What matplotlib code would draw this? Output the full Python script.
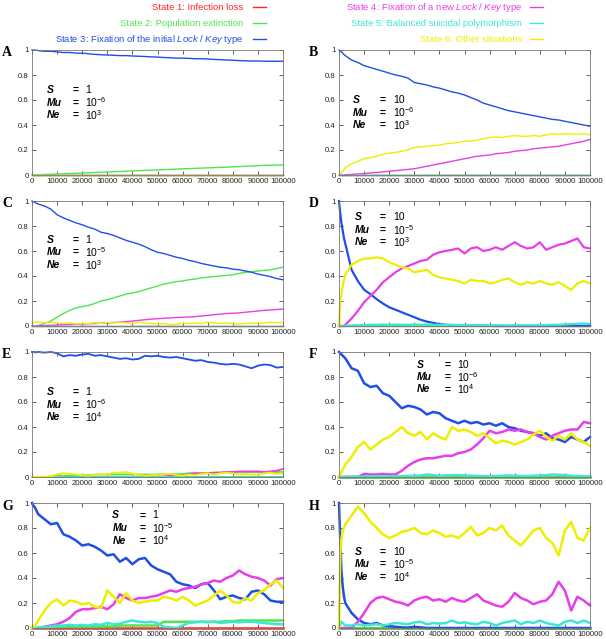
import matplotlib
matplotlib.use('Agg')
import matplotlib.pyplot as plt
from matplotlib.lines import Line2D

plt.rcParams['font.family'] = ['Liberation Sans', 'DejaVu Sans']
plt.rcParams['mathtext.fontset'] = 'custom'
plt.rcParams['mathtext.rm'] = 'Liberation Sans'
plt.rcParams['mathtext.it'] = 'Liberation Sans:italic'
plt.rcParams['mathtext.bf'] = 'Liberation Sans:bold'

# ---------------- data ----------------
T = [0, 500, 1000, 1500, 2000] + list(range(2500, 100001, 2500))
ENDS = [0, 100000]

STATE_LABELS = [
    'State 1: Infection loss',
    'State 2: Population extinction',
    'State 3: Fixation of the initial $\\mathit{Lock\\ /\\ Key}$ type',
    'State 4: Fixation of a new $\\mathit{Lock\\ /\\ Key}$ type',
    'State 5: Balanced suicidal polymorphism',
    'State 6: Other situations',
]
COLORS = ['#ff2222', '#4de64d', '#1f4fe8', '#e83de8', '#3ee6d6', '#eeee00']

X_TICKS = [0, 10000, 20000, 30000, 40000, 50000, 60000, 70000, 80000, 90000, 100000]
Y_TICKS = [0, 0.2, 0.4, 0.6, 0.8, 1.0]
Y_TICK_LABELS = ['0', '0.2', '0.4', '0.6', '0.8', '1']

# Panel A
A_red = [0, 0]
A_green = [0, 0, 0, 0.001, 0.001,
           0.002, 0.004, 0.006, 0.008, 0.01, 0.012, 0.014, 0.016, 0.018, 0.02,
           0.022, 0.024, 0.026, 0.028, 0.03, 0.032, 0.035, 0.037, 0.039, 0.041,
           0.043, 0.045, 0.047, 0.049, 0.051, 0.053, 0.055, 0.057, 0.059, 0.061,
           0.063, 0.065, 0.067, 0.07, 0.072, 0.075, 0.077, 0.078, 0.079, 0.08]
A_blue = [1.0, 1.0, 0.999, 0.998, 0.997,
          0.995, 0.99, 0.99, 0.985, 0.98, 0.98, 0.975, 0.975, 0.97, 0.965,
          0.962, 0.96, 0.958, 0.955, 0.955, 0.952, 0.95, 0.948, 0.945, 0.943,
          0.94, 0.938, 0.935, 0.935, 0.933, 0.93, 0.93, 0.928, 0.925, 0.922,
          0.92, 0.918, 0.915, 0.913, 0.912, 0.912, 0.91, 0.91, 0.91, 0.91]
A_magenta = [0.001, 0.001]
A_cyan = [0, 0]
A_yellow = [0.003, 0.003]

# Panel B
B_red = [0, 0]
B_green = [0, 0]
B_blue = [1.0, 0.99, 0.985, 0.975, 0.965,
          0.955, 0.92, 0.9, 0.875, 0.86, 0.845, 0.83, 0.815, 0.8, 0.79,
          0.775, 0.74, 0.73, 0.72, 0.705, 0.695, 0.68, 0.665, 0.655, 0.64,
          0.62, 0.6, 0.575, 0.56, 0.545, 0.53, 0.515, 0.505, 0.495, 0.485,
          0.475, 0.465, 0.455, 0.445, 0.44, 0.43, 0.42, 0.41, 0.4, 0.39]
B_magenta = [0, 0, 0, 0, 0,
             0.002, 0.005, 0.008, 0.012, 0.016, 0.02, 0.025, 0.03, 0.035, 0.04,
             0.045, 0.05, 0.06, 0.07, 0.08, 0.09, 0.1, 0.11, 0.12, 0.13,
             0.14, 0.15, 0.155, 0.16, 0.17, 0.175, 0.18, 0.19, 0.195, 0.2,
             0.21, 0.215, 0.22, 0.225, 0.23, 0.24, 0.25, 0.26, 0.27, 0.285]
B_cyan = [0, 0]
B_yellow = [0, 0.01, 0.02, 0.03, 0.04,
            0.06, 0.09, 0.11, 0.13, 0.14, 0.15, 0.165, 0.175, 0.18, 0.19,
            0.2, 0.22, 0.225, 0.23, 0.235, 0.24, 0.25, 0.255, 0.26, 0.27,
            0.27, 0.28, 0.29, 0.3, 0.305, 0.3, 0.31, 0.315, 0.31, 0.31,
            0.315, 0.31, 0.32, 0.33, 0.325, 0.33, 0.33, 0.325, 0.33, 0.32]

# Panel C
C_red = [0, 0]
C_green = [0, 0, 0, 0, 0,
           0.005, 0.02, 0.04, 0.07, 0.1, 0.125, 0.145, 0.155, 0.165, 0.18,
           0.2, 0.21, 0.225, 0.24, 0.255, 0.265, 0.275, 0.29, 0.305, 0.32,
           0.335, 0.345, 0.355, 0.36, 0.37, 0.375, 0.385, 0.39, 0.395, 0.4,
           0.405, 0.41, 0.42, 0.43, 0.435, 0.44, 0.445, 0.45, 0.46, 0.47]
C_blue = [1.0, 0.995, 0.99, 0.985, 0.98,
          0.975, 0.96, 0.935, 0.89, 0.865, 0.845, 0.825, 0.81, 0.79, 0.775,
          0.75, 0.74, 0.725, 0.705, 0.685, 0.67, 0.655, 0.635, 0.61, 0.59,
          0.58, 0.565, 0.55, 0.54, 0.525, 0.515, 0.5, 0.49, 0.48, 0.47,
          0.465, 0.455, 0.45, 0.44, 0.43, 0.415, 0.405, 0.395, 0.38, 0.37]
C_magenta = [0, 0, 0, 0, 0,
             0.002, 0.004, 0.006, 0.008, 0.01, 0.012, 0.014, 0.016, 0.018, 0.02,
             0.022, 0.025, 0.028, 0.03, 0.035, 0.04, 0.045, 0.05, 0.055, 0.058,
             0.062, 0.065, 0.068, 0.07, 0.072, 0.075, 0.08, 0.085, 0.09, 0.095,
             0.1, 0.102, 0.105, 0.11, 0.115, 0.12, 0.125, 0.128, 0.132, 0.135]
C_cyan = [0.003, 0.003]
C_yellow = [0.02, 0.03, 0.03, 0.035, 0.03,
            0.035, 0.025, 0.03, 0.025, 0.02, 0.025, 0.015, 0.02, 0.02, 0.025,
            0.02, 0.03, 0.025, 0.03, 0.025, 0.02, 0.03, 0.025, 0.02, 0.015,
            0.02, 0.01, 0.015, 0.02, 0.02, 0.025, 0.02, 0.03, 0.025, 0.02,
            0.025, 0.02, 0.015, 0.02, 0.025, 0.02, 0.025, 0.03, 0.025, 0.03]

# Panel D
D_red = [0, 0]
D_green = [0.004, 0.004]
D_blue = [1.0, 0.9, 0.82, 0.76, 0.7,
          0.66, 0.45, 0.36, 0.29, 0.255, 0.215, 0.18, 0.15, 0.13, 0.11,
          0.09, 0.07, 0.05, 0.035, 0.025, 0.015, 0.01, 0.007, 0.005, 0.003,
          0.002, 0.002, 0.001, 0.001, 0, 0, 0, 0, 0, 0,
          0, 0, 0, 0, 0, 0, 0, 0, 0, 0]
D_magenta = [0, 0, 0, 0, 0,
             0.01, 0.06, 0.12, 0.19, 0.24, 0.29, 0.35, 0.39, 0.43, 0.46,
             0.48, 0.5, 0.52, 0.53, 0.57, 0.59, 0.6, 0.61, 0.62, 0.58,
             0.62, 0.63, 0.6, 0.61, 0.63, 0.61, 0.64, 0.67, 0.64, 0.62,
             0.63, 0.67, 0.61, 0.63, 0.65, 0.66, 0.68, 0.7, 0.63, 0.62]
D_cyan = [0, 0, 0, 0, 0,
          0.002, 0.004, 0.006, 0.008, 0.01, 0.01, 0.012, 0.01, 0.012, 0.01,
          0.01, 0.012, 0.01, 0.012, 0.01, 0.01, 0.008, 0.01, 0.008, 0.006,
          0.006, 0.005, 0.005, 0.005, 0.006, 0.005, 0.004, 0.005, 0.006, 0.005,
          0.006, 0.008, 0.008, 0.01, 0.01, 0.012, 0.015, 0.018, 0.02, 0.018]
D_yellow = [0.0, 0.2, 0.26, 0.32, 0.37,
            0.41, 0.49, 0.52, 0.54, 0.54, 0.55, 0.54, 0.51, 0.49, 0.47,
            0.46, 0.43, 0.44, 0.45, 0.41, 0.39, 0.38, 0.37, 0.36, 0.34,
            0.37, 0.36, 0.36, 0.34, 0.35, 0.37, 0.38, 0.35, 0.33, 0.35,
            0.34, 0.36, 0.34, 0.33, 0.35, 0.32, 0.29, 0.34, 0.36, 0.34]

# Panel E
E_red = [0, 0]
E_green = [0, 0, 0, 0, 0,
           0, 0, 0.005, 0.008, 0.01, 0.01, 0.012, 0.015, 0.015, 0.018,
           0.02, 0.02, 0.02, 0.02, 0.02, 0.02, 0.02, 0.02, 0.02, 0.02,
           0.022, 0.022, 0.022, 0.025, 0.03, 0.03, 0.03, 0.032, 0.035, 0.035,
           0.04, 0.04, 0.04, 0.04, 0.04, 0.04, 0.04, 0.04, 0.04, 0.04]
E_blue = [1.0, 1.0, 1.0, 0.995, 1.0,
          1.0, 0.995, 1.0, 0.99, 0.965, 0.975, 0.97, 0.98, 0.985, 0.97,
          0.975, 0.965, 0.955, 0.945, 0.95, 0.94, 0.945, 0.97, 0.965, 0.97,
          0.96, 0.955, 0.96, 0.95, 0.94, 0.93, 0.935, 0.92, 0.915, 0.905,
          0.9, 0.905, 0.9, 0.885, 0.87, 0.89, 0.9, 0.895, 0.875, 0.88]
E_magenta = [0, 0, 0, 0, 0,
             0, 0, 0, 0, 0, 0, 0, 0, 0, 0,
             0, 0, 0, 0, 0, 0, 0, 0, 0, 0,
             0.005, 0.01, 0.01, 0.01, 0.025, 0.03, 0.03, 0.03, 0.035, 0.035,
             0.04, 0.04, 0.045, 0.045, 0.045, 0.045, 0.04, 0.045, 0.05, 0.065]
E_cyan = [0.003, 0.003]
E_yellow = [0, 0, 0, 0.002, 0.003,
            0.003, 0.002, 0.005, 0.02, 0.03, 0.025, 0.02, 0.015, 0.01, 0.02,
            0.02, 0.02, 0.035, 0.035, 0.04, 0.025, 0.02, 0.01, 0.015, 0.02,
            0.02, 0.025, 0.015, 0.01, 0.02, 0.015, 0.025, 0.03, 0.02, 0.03,
            0.035, 0.03, 0.02, 0.025, 0.02, 0.02, 0.03, 0.035, 0.025, 0.03]

# Panel F
F_red = [0, 0]
F_green = [0.002, 0.002]
F_blue = [1.0, 0.99, 0.98, 0.97, 0.96,
          0.95, 0.87, 0.85, 0.75, 0.72, 0.73, 0.67, 0.65, 0.6, 0.55,
          0.57, 0.56, 0.54, 0.5, 0.52, 0.51, 0.47, 0.45, 0.43, 0.45,
          0.43, 0.44, 0.42, 0.43, 0.41, 0.43, 0.4, 0.39, 0.37, 0.36,
          0.35, 0.33, 0.35, 0.31, 0.3, 0.28, 0.32, 0.3, 0.28, 0.32]
F_magenta = [0, 0, 0, 0, 0,
             0, 0, 0, 0.025, 0.02, 0.02, 0.025, 0.02, 0.02, 0.05,
             0.09, 0.12, 0.14, 0.15, 0.15, 0.16, 0.17, 0.17, 0.19, 0.2,
             0.22, 0.26, 0.31, 0.37, 0.35, 0.36, 0.38, 0.37, 0.38, 0.36,
             0.35, 0.32, 0.3, 0.33, 0.35, 0.37, 0.38, 0.38, 0.44, 0.43]
F_cyan = [0, 0, 0, 0, 0,
          0.002, 0.003, 0.003, 0.004, 0.005, 0.005, 0.005, 0.005, 0.006, 0.006,
          0.008, 0.01, 0.012, 0.02, 0.015, 0.01, 0.012, 0.015, 0.015, 0.012,
          0.01, 0.008, 0.006, 0.006, 0.008, 0.01, 0.012, 0.01, 0.008, 0.008,
          0.01, 0.012, 0.015, 0.02, 0.018, 0.015, 0.01, 0.008, 0.006, 0.005]
F_yellow = [0, 0.02, 0.04, 0.06, 0.08,
            0.1, 0.16, 0.24, 0.28, 0.22, 0.26, 0.3, 0.32, 0.36, 0.4,
            0.35, 0.33, 0.36, 0.3, 0.35, 0.32, 0.3, 0.4, 0.37, 0.38,
            0.36, 0.33, 0.35, 0.31, 0.27, 0.29, 0.28, 0.26, 0.28, 0.3,
            0.34, 0.37, 0.32, 0.29, 0.33, 0.3, 0.35, 0.3, 0.28, 0.25]

# Panel G
G_red = [0, 0]
G_green = [0, 0, 0, 0, 0,
           0, 0, 0.01, 0.01, 0.01, 0.012, 0.012, 0.012, 0.012, 0.012,
           0.012, 0.012, 0.012, 0.02, 0.02, 0.02, 0.02, 0.02, 0.02, 0.02,
           0.05, 0.05, 0.05, 0.05, 0.05, 0.05, 0.05, 0.05, 0.05, 0.05,
           0.055, 0.055, 0.06, 0.06, 0.06, 0.06, 0.06, 0.06, 0.06, 0.06]
G_blue = [1.0, 0.98, 0.97, 0.95, 0.93,
          0.91, 0.87, 0.83, 0.84, 0.75, 0.73, 0.7, 0.66, 0.67, 0.65,
          0.62, 0.58, 0.59, 0.53, 0.56, 0.51, 0.55, 0.56, 0.5, 0.47,
          0.45, 0.43, 0.37, 0.35, 0.34, 0.32, 0.35, 0.36, 0.3, 0.23,
          0.25, 0.26, 0.24, 0.23, 0.29, 0.3, 0.27, 0.22, 0.21, 0.21]
G_magenta = [0, 0, 0, 0, 0,
             0, 0.01, 0.02, 0.03, 0.05, 0.08, 0.13, 0.15, 0.15, 0.16,
             0.17, 0.15, 0.19, 0.27, 0.24, 0.22, 0.24, 0.24, 0.25, 0.26,
             0.28, 0.3, 0.29, 0.31, 0.32, 0.33, 0.35, 0.36, 0.38, 0.37,
             0.4, 0.42, 0.46, 0.43, 0.41, 0.4, 0.38, 0.34, 0.39, 0.4]
G_cyan = [0, 0, 0, 0, 0.002,
          0.005, 0.008, 0.012, 0.02, 0.02, 0.025, 0.02, 0.025, 0.02, 0.03,
          0.025, 0.04, 0.03, 0.035, 0.05, 0.06, 0.05, 0.045, 0.05, 0.04,
          0.01, 0.005, 0.0, 0.02, 0.04, 0.045, 0.05, 0.045, 0.05, 0.04,
          0.045, 0.05, 0.045, 0.05, 0.05, 0.045, 0.04, 0.035, 0.03, 0.03]
G_yellow = [0, 0.01, 0.02, 0.03, 0.04,
            0.06, 0.14, 0.2, 0.23, 0.18, 0.22, 0.21, 0.19, 0.2, 0.17,
            0.16, 0.3, 0.25, 0.2, 0.28, 0.22, 0.2, 0.21, 0.22, 0.22,
            0.25, 0.24, 0.22, 0.25, 0.22, 0.18, 0.2, 0.22, 0.26, 0.3,
            0.26, 0.21, 0.2, 0.24, 0.22, 0.28, 0.3, 0.35, 0.38, 0.32]

# Panel H
H_red = [0, 0]
H_green = [0.003, 0.003]
H_blue = [1.0, 0.7, 0.45, 0.33, 0.25,
          0.2, 0.12, 0.07, 0.04, 0.03, 0.04, 0.02, 0.015, 0.01, 0.005,
          0.003, 0.01, 0.005, 0, 0, 0, 0, 0, 0, 0,
          0, 0, 0, 0, 0, 0, 0, 0, 0, 0,
          0, 0, 0, 0, 0, 0, 0, 0, 0, 0]
H_magenta = [0, 0, 0, 0, 0,
             0, 0, 0.05, 0.12, 0.2, 0.24, 0.25, 0.23, 0.21, 0.2,
             0.18, 0.22, 0.24, 0.25, 0.22, 0.23, 0.21, 0.24, 0.22, 0.21,
             0.24, 0.27, 0.22, 0.2, 0.18, 0.17, 0.21, 0.28, 0.24, 0.22,
             0.19, 0.21, 0.22, 0.27, 0.37, 0.3, 0.14, 0.25, 0.22, 0.18]
H_cyan = [0, 0.03, 0.05, 0.04, 0.03,
          0.02, 0.02, 0.03, 0.02, 0.025, 0.03, 0.02, 0.03, 0.04, 0.035,
          0.03, 0.045, 0.05, 0.03, 0.04, 0.035, 0.04, 0.06, 0.04, 0.045,
          0.035, 0.03, 0.05, 0.04, 0.02, 0.04, 0.05, 0.06, 0.03, 0.05,
          0.04, 0.06, 0.04, 0.03, 0.02, 0.05, 0.06, 0.04, 0.06, 0.04]
H_yellow = [0.0, 0.6, 0.72, 0.78, 0.8,
            0.83, 0.9, 0.97, 0.92, 0.85, 0.8, 0.75, 0.72, 0.74, 0.77,
            0.78, 0.8, 0.76, 0.75, 0.78, 0.76, 0.73, 0.74, 0.72, 0.76,
            0.81, 0.74, 0.76, 0.8, 0.78, 0.82, 0.74, 0.7, 0.66, 0.72,
            0.78, 0.8, 0.72, 0.68, 0.58, 0.78, 0.85, 0.72, 0.7, 0.8]

PANELS = {
    'A': [A_red, A_green, A_blue, A_magenta, A_cyan, A_yellow],
    'B': [B_red, B_green, B_blue, B_magenta, B_cyan, B_yellow],
    'C': [C_red, C_green, C_blue, C_magenta, C_cyan, C_yellow],
    'D': [D_red, D_green, D_blue, D_magenta, D_cyan, D_yellow],
    'E': [E_red, E_green, E_blue, E_magenta, E_cyan, E_yellow],
    'F': [F_red, F_green, F_blue, F_magenta, F_cyan, F_yellow],
    'G': [G_red, G_green, G_blue, G_magenta, G_cyan, G_yellow],
    'H': [H_red, H_green, H_blue, H_magenta, H_cyan, H_yellow],
}
S_VALUES = {'A': '1', 'B': '10', 'C': '1', 'D': '10', 'E': '1', 'F': '10', 'G': '1', 'H': '10'}
MU_EXP = {'A': '-6', 'B': '-6', 'C': '-5', 'D': '-5', 'E': '-6', 'F': '-6', 'G': '-5', 'H': '-5'}
NE_EXP = {'A': '3', 'B': '3', 'C': '3', 'D': '3', 'E': '4', 'F': '4', 'G': '4', 'H': '4'}

# ---------------- layout ----------------
W, H = 606, 639
fig = plt.figure(figsize=(W / 100, H / 100), dpi=100)

LEFTS = {'A': 32, 'B': 339, 'C': 32, 'D': 339, 'E': 32, 'F': 339, 'G': 32, 'H': 339}
TOPS = {'A': 50, 'B': 50, 'C': 201, 'D': 201, 'E': 352, 'F': 352, 'G': 503, 'H': 503}
AX_W, AX_H = 251, 125
LW = {'A': 1.0, 'B': 1.0, 'C': 1.0, 'D': 1.6, 'E': 1.3, 'F': 1.8, 'G': 1.8, 'H': 1.8}
# text positions in axes fraction: x_name, x_eq, x_val, y_S, y_Mu, y_Ne
TXT = {
    'A': (0.06, 0.16, 0.21, 0.68, 0.58, 0.48),
    'B': (0.056, 0.163, 0.215, 0.60, 0.50, 0.40),
    'C': (0.06, 0.16, 0.21, 0.69, 0.59, 0.49),
    'D': (0.064, 0.163, 0.217, 0.87, 0.77, 0.67),
    'E': (0.06, 0.16, 0.21, 0.68, 0.58, 0.48),
    'F': (0.31, 0.42, 0.47, 0.90, 0.80, 0.70),
    'G': (0.32, 0.43, 0.48, 0.90, 0.80, 0.70),
    'H': (0.064, 0.163, 0.215, 0.61, 0.51, 0.41),
}

for key, series in PANELS.items():
    l, t = LEFTS[key], TOPS[key]
    ax = fig.add_axes([l / W, 1 - (t + AX_H) / H, AX_W / W, AX_H / H])
    for ys, c in zip(series, COLORS):
        xs = T if len(ys) == len(T) else ENDS
        ax.plot(xs, ys, color=c, lw=LW[key], clip_on=False, solid_joinstyle='round')
    ax.set_xlim(0, 100000)
    ax.set_ylim(0, 1)
    ax.set_xticks(X_TICKS)
    ax.set_xticklabels([str(v) for v in X_TICKS])
    ax.set_yticks(Y_TICKS)
    ax.set_yticklabels(Y_TICK_LABELS)
    ax.tick_params(direction='in', length=3, width=0.5, top=True, right=True,
                   labelsize=5.6, pad=2.5, colors='#222222')
    for sp in ax.spines.values():
        sp.set_linewidth(0.6)
        sp.set_color('#777777')
    xn, xe, xv, yS, yM, yN = TXT[key]
    fs = 7.5
    for yy, name, val in [(yS, 'S', S_VALUES[key]),
                          (yM, 'Mu', '10$^{' + MU_EXP[key] + '}$'),
                          (yN, 'Ne', '10$^{' + NE_EXP[key] + '}$')]:
        ax.text(xn, yy, name, transform=ax.transAxes, fontsize=fs,
                fontweight='bold', fontstyle='italic', va='center', ha='left')
        ax.text(xe, yy, '=', transform=ax.transAxes, fontsize=fs,
                fontweight='bold', va='center', ha='left')
        ax.text(xv, yy, val, transform=ax.transAxes, fontsize=fs,
                va='center', ha='left')
    fig.text((l - 30) / W, 1 - (t + 3) / H, key, fontsize=10,
             family='Liberation Serif', fontweight='bold', va='center', ha='left')

# legend
ROW_Y = [7, 23, 39]
for i in range(3):
    y = 1 - ROW_Y[i] / H
    fig.text(243 / W, y, STATE_LABELS[i], color=COLORS[i], fontsize=6.8,
             ha='right', va='center')
    fig.add_artist(Line2D([253 / W, 266 / W], [y, y], color=COLORS[i], lw=1.0))
    j = i + 3
    fig.text(522 / W, y, STATE_LABELS[j], color=COLORS[j], fontsize=6.8,
             ha='right', va='center')
    fig.add_artist(Line2D([530 / W, 543 / W], [y, y], color=COLORS[j], lw=1.0))

fig.savefig('out.png', dpi=100)
